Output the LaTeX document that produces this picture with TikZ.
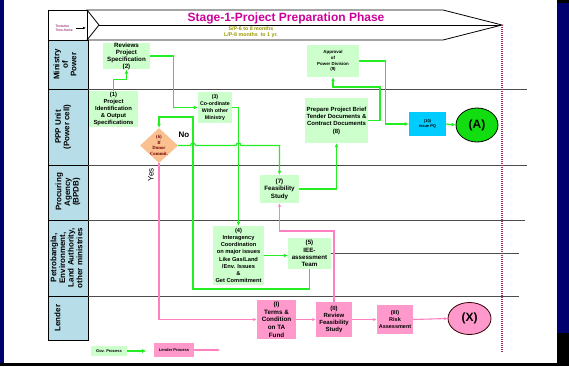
\documentclass[tikz,border=0pt]{standalone}
\usepackage{fontspec}
\setmainfont{Liberation Sans}
\newfontfamily\donorfont{Liberation Serif}
\usetikzlibrary{shapes.geometric,arrows.meta}
\definecolor{slidebg}{HTML}{00006E}
\definecolor{govgreen}{HTML}{22EE22}
\definecolor{govfill}{HTML}{CCFFCC}
\definecolor{afill}{HTML}{11DD11}
\definecolor{lendpink}{HTML}{FF99CC}
\definecolor{lendline}{HTML}{FF80C0}
\definecolor{lanefill}{HTML}{B7DDE8}
\definecolor{donorfill}{HTML}{FAC090}
\definecolor{pqfill}{HTML}{00CCFF}
\definecolor{titlemag}{HTML}{CC0099}
\definecolor{spanolive}{HTML}{999900}
\definecolor{endline}{HTML}{993366}
\newcommand{\fsz}[2]{\fontsize{#1}{#2}\selectfont}

\begin{document}
\begin{tikzpicture}[x=1pt,y=-1pt,
  govbox/.style={fill=govfill,align=center,inner sep=0pt},
  lendbox/.style={fill=lendpink,align=center,inner sep=0pt},
  govflow/.style={draw=govgreen,line width=1.2pt,-{Latex[length=4pt,width=4pt]}},
  lendflow/.style={draw=lendline,line width=1.1pt,-{Latex[length=3.5pt,width=3.2pt]}},
  lanecell/.style={draw=black,fill=lanefill,line width=0.8pt},
  laneline/.style={draw=black!70,line width=0.8pt},
  lanelabel/.style={rotate=90,align=center,font=\bfseries\fsz{8}{8.6}}]
\useasboundingbox (0,0) rectangle (569,366);
% slide
\fill[slidebg] (0,0) rectangle (569,366);
\fill[white] (4,0) rectangle (557,363);
\fill[black] (0,363) rectangle (569,366);
\fill[black] (557,0) rectangle (569,3);
\fill[black] (557,333) rectangle (569,366);
% time frame
\draw[line width=0.8pt] (48,10) rectangle (87,40);
\draw[line width=0.8pt] (87,10) -- (443,10) -- (502,25) -- (443,40) -- (87,40) -- (99,25) -- cycle;
\draw[line width=0.8pt] (99,25) -- (502,25);
\node[anchor=west,align=left,text=titlemag!60!black,font=\fsz{3.4}{3.9}] (frame) at (52,28) {Tentative\\Time-frame};
\draw[-{Latex[length=3pt,width=2.6pt]},line width=0.7pt] (frame.east) -- (86,28);
\node[anchor=base,text=titlemag,font=\bfseries\fsz{12}{14}] (title) at (286,22) {Stage-1-Project Preparation Phase};
\node[anchor=north,inner sep=0pt,align=center,text=spanolive,font=\bfseries\fsz{5.3}{6.2}] (span) at (251,26.5) {S/P-6 to 8 months\\L/P-8 months\ \ to 1 yr.};
% lanes
\foreach \a/\b in {40/89,89/165,165/220,220/296,296/340}
  \draw[lanecell] (48,\a) rectangle (88,\b);
\foreach \y/\e in {89/527,165/527,220/525,296/519}
  \draw[laneline] (88,\y) -- (\e,\y);
\node[lanelabel] (mop) at (65,64.5) {Ministry\\of\\Power};
\node[lanelabel] (ppp) at (63,127) {PPP Unit\\(Power cell)};
\node[lanelabel] (bpdb) at (68,192) {Procuring\\Agency\\(BPDB)};
\node[lanelabel] (oth) at (66.5,258) {Petrobangla,\\Environment,\\Land Authority,\\other ministries};
\node[lanelabel] (lend) at (57.5,318) {Lender};
\draw[endline,line width=2.2pt,dash pattern=on 1.1pt off 0.9pt] (502,25) -- (502,352);

% gov process
\node[govbox,minimum width=47,minimum height=26,font=\bfseries\fsz{6.2}{7}] (n2) at (126.5,56) {Reviews\\Project\\Specification\\(2)};
\node[govbox,minimum width=49,minimum height=36,font=\bfseries\fsz{5.9}{7}] (n1) at (113.5,109) {(1)\\Project\\Identification\\\& Output\\Specifications};
\node[govbox,minimum width=34,minimum height=31,font=\bfseries\fsz{5.3}{7}] (n3) at (215,107.5) {(3)\\Co-ordinate\\With other\\Ministry};
\node[diamond,fill=donorfill,minimum width=38,minimum height=35,inner sep=0pt] (dia) at (159,145.5) {};
\node[align=center,text=red!45!black,font=\donorfont\bfseries\fsz{4.8}{5.6}] (diatext) at (dia) {(6)\\If\\Donor\\Commit.};
\node[govbox,minimum width=39,minimum height=28,font=\bfseries\fsz{6.2}{7.4}] (n7) at (279.5,189) {(7)\\Feasibility\\Study};
\node[govbox,minimum width=51,minimum height=59,font=\bfseries\fsz{5.7}{7.2}] (n4) at (238.5,255.5) {(4)\\Interagency\\Coordination\\on major issues\\Like Gas/Land\\/Env. Issues\\\&\\Get Commitment};
\node[govbox,minimum width=43,minimum height=31,font=\bfseries\fsz{6.2}{7.4}] (n5) at (309.5,253.5) {(5)\\IEE-\\assessment\\Team};
\node[govbox,minimum width=63,minimum height=45,font=\bfseries\fsz{6}{7.3}] (n8) at (336.5,120.5) {Prepare Project Brief\\Tender Documents \&\\Contract Documents\\(8)};
\node[govbox,minimum width=52,minimum height=32,font=\bfseries\fsz{4.4}{5.8}] (n9) at (333,61) {Approval\\of\\Power Division\\(9)};
\node[fill=pqfill,align=center,inner sep=0pt,minimum width=37,minimum height=24,font=\bfseries\fsz{4}{5}] (n10) at (427.5,124) {(10)\\issue PQ};
\node[ellipse,draw=black,line width=0.8pt,fill=afill,minimum width=42,minimum height=34,inner sep=0pt,font=\bfseries\fsz{12}{14}] (nA) at (477,125) {(A)};

\draw[govflow] (n1.north) -- ++(0,-11) -| (n2.south);
\draw[govflow] (n2.east) -- ++(23,0) |- (n3.west);
\draw[govflow] (n3.east) -| (n4.north);
\draw[govflow] (n4.east) -- (n4.east -| n5.west);
\coordinate (loopbot) at (193,289);
\coordinate (looptop) at (193,117);
\draw[govflow] (n5.south) |- (loopbot) -- (looptop) -| (dia.north);
\draw[govflow] (dia.east) -- (190.5,145.5) arc[start angle=180,end angle=360,radius=2.5]
  -- (236,145.5) arc[start angle=180,end angle=360,radius=2.5] -| (n7.north);
\draw[govflow] (n7.east) -| (n8.south);
\draw[govflow] (n8.east) -| (380,87) -| (n9.south);
\draw[govflow] (n9.east) -- ++(26,0) |- (n10.west);
\draw[govflow] (n10.east) -- (nA.west);
\draw[laneline] (n5.east) -- ++(188,0);
\node[font=\bfseries\fsz{8}{9}] (no) at (184,135) {No};
\node[rotate=90,font=\fsz{8}{9}] (yes) at (151,175) {Yes};

% lender process
\node[lendbox,minimum width=39,minimum height=39,font=\bfseries\fsz{6.3}{7.7}] (nI) at (276.5,319.5) {(I)\\Terms \&\\Condition\\on TA\\Fund};
\node[lendbox,minimum width=36,minimum height=35,font=\bfseries\fsz{6}{7.2}] (nII) at (334,319.5) {(II)\\Review\\Feasibility\\Study};
\node[lendbox,minimum width=36,minimum height=29,font=\bfseries\fsz{5.5}{6.8}] (nIII) at (395,319.5) {(III)\\Risk\\Assessment};
\node[ellipse,draw=black!80!red,line width=0.8pt,fill=lendpink,minimum width=43,minimum height=32,inner sep=0pt,font=\bfseries\fsz{12}{14}] (nX) at (469.5,318.5) {(X)};
\draw[lendflow] (dia.south) |- (nI.west);
\draw[lendflow] (nI.east) -- (nII.west);
\draw[lendflow] (nII.north) -- (334,231) -| (n7.south);
\draw[lendflow] (nII.east) -- (nIII.west);
\draw[lendflow] (nIII.east) -- (nX.west);

% legend
\node[govbox,minimum width=36,minimum height=10,font=\bfseries\fsz{4}{5}] (leggov) at (109,351) {Gov. Process};
\draw[govflow] (leggov.east) -- ++(19,0);
\node[lendbox,minimum width=40,minimum height=14,font=\bfseries\fsz{4}{5}] (leglend) at (174,350) {Lender Process};
\draw[lendflow] (leglend.east) -- ++(26,0);
\end{tikzpicture}
\end{document}
